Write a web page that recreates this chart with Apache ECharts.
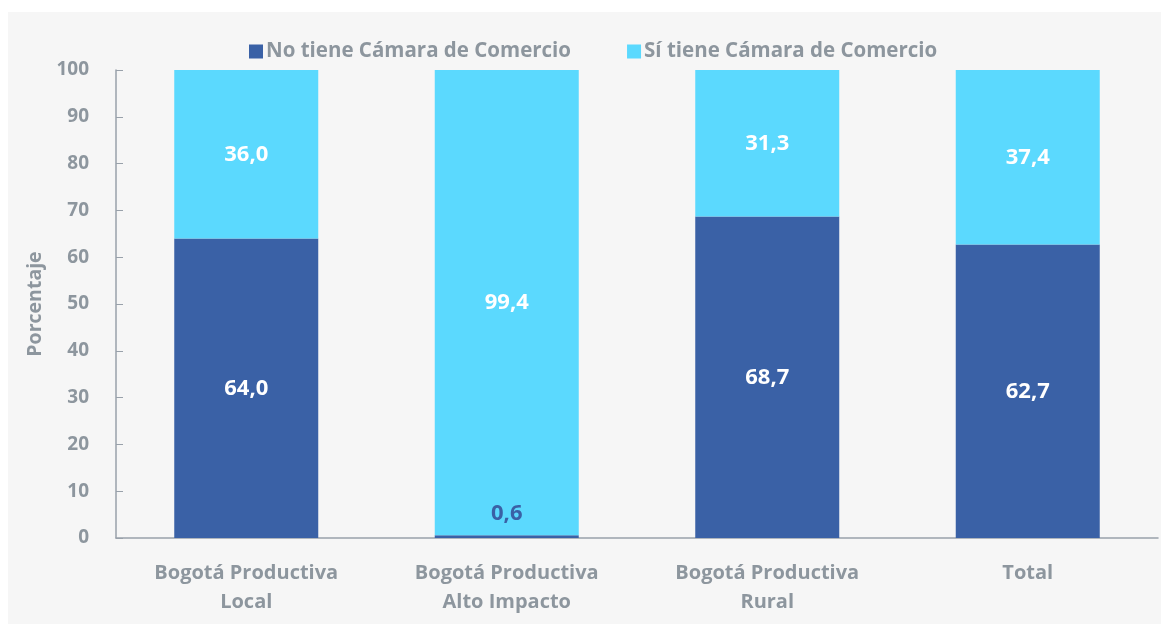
<!DOCTYPE html>
<html>
<head>
<meta charset="utf-8">
<script src="https://cdn.jsdelivr.net/npm/echarts@6/dist/echarts.min.js"></script>
<style>
html,body{margin:0;padding:0;background:#ffffff;}
#chart{width:1161px;height:625px;}
</style>
</head>
<body>
<div id="chart"></div>
<script>
const categories = ['Bogotá Productiva\nLocal', 'Bogotá Productiva\nAlto Impacto', 'Bogotá Productiva\nRural', 'Total'];
const seriesNames = ['No tiene Cámara de Comercio', 'Sí tiene Cámara de Comercio'];
const noTiene = [64.0, 0.6, 68.7, 62.7];
const siTiene = [36.0, 99.4, 31.3, 37.4];

const gray = '#8d969e';
const dark = '#3a61a6';
const light = '#5bd9fe';
const font = 'Open Sans';

const fmt = p => p.value.toFixed(1).replace('.', ',');

const chart = echarts.init(document.getElementById('chart'));
chart.setOption({
  backgroundColor: '#ffffff',
  animation: false,
  graphic: [{
    type: 'rect', z: -10, silent: true,
    shape: {x: 8, y: 12, width: 1153, height: 612},
    style: {fill: '#f6f6f6'}
  }],
  textStyle: {fontFamily: font},
  legend: {
    top: 36, left: 244,
    itemWidth: 14, itemHeight: 14, itemGap: 56,
    icon: 'rect',
    textStyle: {color: gray, fontSize: 20.5, fontWeight: 'bold', fontFamily: font, padding: [0,0,0,-2]},
    data: seriesNames
  },
  grid: {left: 116, right: 3, top: 70, bottom: 87, containLabel: false},
  xAxis: {
    type: 'category', data: categories,
    axisLine: {lineStyle: {color: '#99a1aa', width: 1.5}},
    axisTick: {show: false},
    axisLabel: {color: gray, fontSize: 20, fontWeight: 'bold', fontFamily: font, lineHeight: 29, margin: 21}
  },
  yAxis: {
    type: 'value', min: 0, max: 100, interval: 10,
    name: 'Porcentaje', nameLocation: 'middle', nameGap: 70, nameRotate: 90,
    nameTextStyle: {color: gray, fontSize: 19.5, fontWeight: 'bold', fontFamily: font},
    axisLine: {show: true, lineStyle: {color: '#99a1aa', width: 1.5}},
    axisTick: {show: true, inside: true, length: 7, lineStyle: {color: '#99a1aa'}},
    splitLine: {show: false},
    axisLabel: {color: gray, fontSize: 19, fontWeight: 'bold', fontFamily: font, margin: 27}
  },
  series: [
    {
      name: seriesNames[0], type: 'bar', stack: 'a', barWidth: 144,
      itemStyle: {color: dark},
      data: noTiene.map(v => v < 5 ? {value: v, label: {position: 'top', color: dark, distance: 10}} : v),
      label: {show: true, position: 'inside', color: '#ffffff', fontSize: 22, fontWeight: 'bold', fontFamily: font, formatter: fmt}
    },
    {
      name: seriesNames[1], type: 'bar', stack: 'a', barWidth: 144,
      itemStyle: {color: light},
      data: siTiene,
      label: {show: true, position: 'inside', color: '#ffffff', fontSize: 22, fontWeight: 'bold', fontFamily: font, formatter: fmt}
    }
  ]
});
</script>
</body>
</html>
